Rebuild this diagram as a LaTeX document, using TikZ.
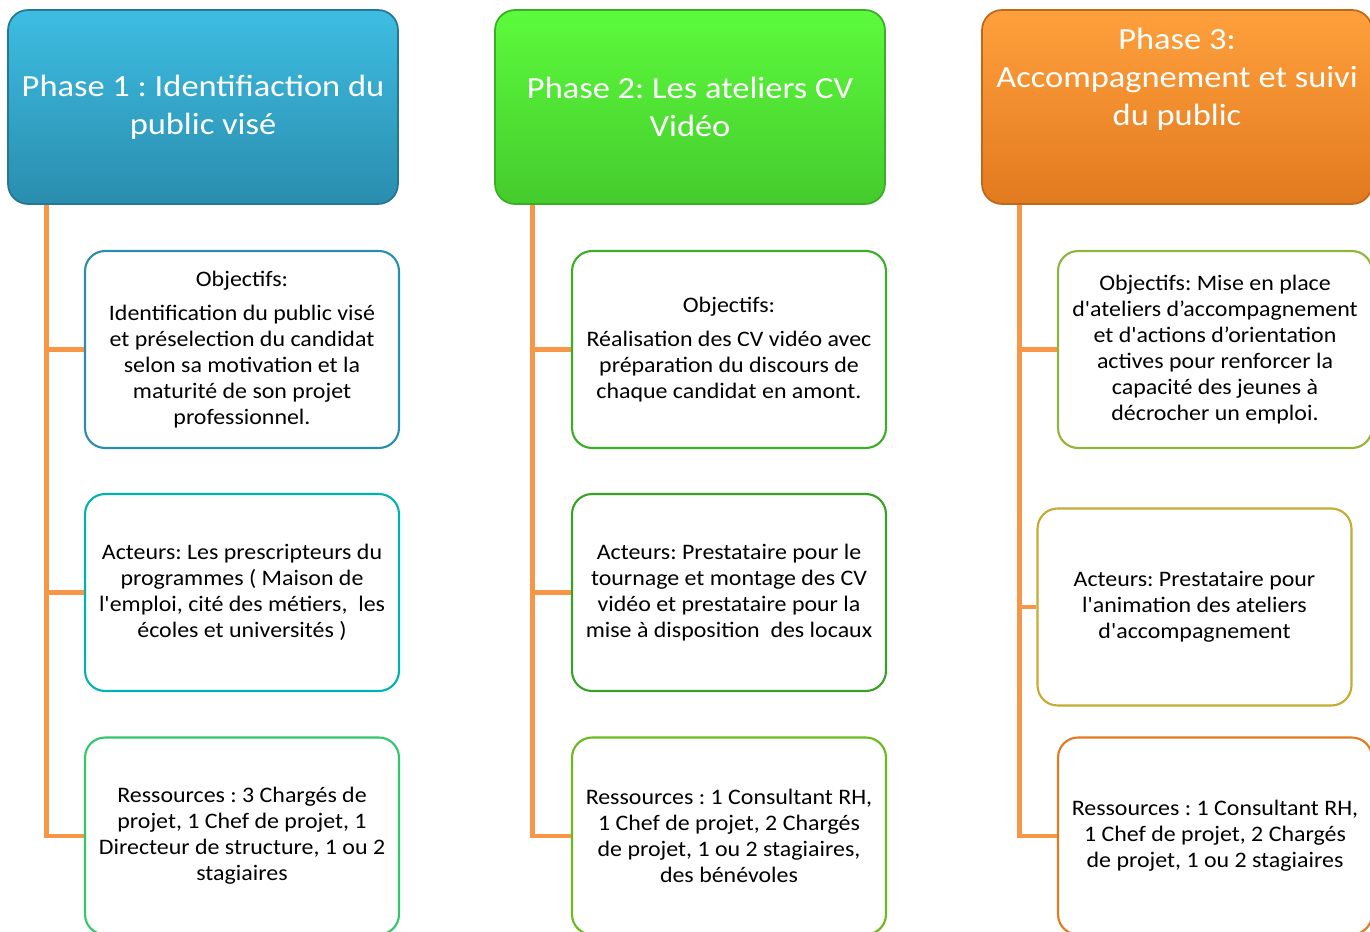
\documentclass[tikz,border=0pt]{standalone}
\usepackage{fontspec}
\setmainfont{Carlito}[Ligatures=TeXOff]
\newfontfamily\headfont{Carlito}[Ligatures=TeXOff,FakeStretch=1.12]
\newfontfamily\itemfont{Carlito}[Ligatures=TeXOff,FakeStretch=1.08]
\usetikzlibrary{positioning}
\definecolor{linkorange}{HTML}{F79646}
\definecolor{blueA}{HTML}{3DBDE2}
\definecolor{blueB}{HTML}{2A8DAE}
\definecolor{greenA}{HTML}{5CFB3C}
\definecolor{greenB}{HTML}{45CB2D}
\definecolor{orangeA}{HTML}{FFA03C}
\definecolor{orangeB}{HTML}{E27A1F}
\frenchspacing

\begin{document}
\begin{tikzpicture}[
    x=0.02cm,y=-0.02cm,
    link/.style={draw=linkorange,line width=2.8pt},
    phase/.style={rectangle,rounded corners=4mm,line width=1pt,
        minimum width=7.8cm,minimum height=3.88cm,align=center,
        text=white,font=\headfont\fontsize{17.5}{21.6}\selectfont},
    headtext/.style={align=center,text=white,font=\headfont\fontsize{17.5}{21.6}\selectfont},
    item/.style={rectangle,rounded corners=4mm,draw,fill=white,line width=1.2pt,
        minimum width=6.28cm,minimum height=3.94cm,align=center,
        font=\itemfont\fontsize{12.6}{14.75}\selectfont}
  ]
    \useasboundingbox (0,0) rectangle (1370,932);

    % les trois phases
    \node[phase,draw=blueB!85!black,top color=blueA,bottom color=blueB] (phase1)
        at (203,107) {Phase 1 : Identifiaction du\\public visé};
    \node[phase,draw=greenB!85!black,top color=greenA,bottom color=greenB] (phase2)
        at (690,107) {Phase 2: Les ateliers CV\\Vidéo};
    \node[phase,draw=orangeB!85!black,top color=orangeA,bottom color=orangeB] (phase3)
        at (1177,107) {};
    \node[headtext] (phase3 text) at (1177,79) {Phase 3:\\Accompagnement et suivi\\du public};

    % phase 1
    \node[item,draw=blueB] (obj1) at (242,349.5)
        {Objectifs:\\[5pt]Identification du public visé\\et préselection du candidat\\selon sa motivation et la\\maturité de son projet\\professionnel.};
    \node[item,draw=teal!60!cyan] (act1) at (242,592.5)
        {Acteurs: Les prescripteurs du\\programmes ( Maison de\\l'emploi, cité des métiers,~ les\\écoles et universités )};
    \node[item,draw=teal!55!green!80] (res1) at (242,836)
        {Ressources : 3 Chargés de\\projet, 1 Chef de projet, 1\\Directeur de structure, 1 ou 2\\stagiaires};

    % phase 2
    \node[item,draw=greenB!85!black] (obj2) at (729,349.5)
        {Objectifs:\\[5pt]Réalisation des CV vidéo avec\\préparation du discours de\\chaque candidat en amont.};
    \node[item,draw=greenB!80!black] (act2) at (729,592.5)
        {Acteurs: Prestataire pour le\\tournage et montage des CV\\vidéo et prestataire pour la\\mise à disposition~ des locaux};
    \node[item,draw=greenB!70!yellow!85!black] (res2) at (729,836)
        {Ressources : 1 Consultant RH,\\1 Chef de projet, 2 Chargés\\de projet, 1 ou 2 stagiaires,\\des bénévoles};

    % phase 3
    \node[item,draw=yellow!60!green!80!black] (obj3) at (1215,349.5)
        {Objectifs: Mise en place\\d'ateliers d’accompagnement\\et d'actions d’orientation\\actives pour renforcer la\\capacité des jeunes à\\décrocher un emploi.};
    \node[item,draw=yellow!70!orange!75!black] (act3) at (1194.5,607)
        {Acteurs: Prestataire pour\\l'animation des ateliers\\d'accompagnement};
    \node[item,draw=orangeB] (res3) at (1215,836)
        {Ressources : 1 Consultant RH,\\1 Chef de projet, 2 Chargés\\de projet, 1 ou 2 stagiaires};

    % liaisons
    \draw[link] ([xshift=0.78cm]phase1.south west) |- (obj1.west);
    \draw[link] ([xshift=0.78cm]phase1.south west) |- (act1.west);
    \draw[link] ([xshift=0.78cm]phase1.south west) |- (res1.west);
    \draw[link] ([xshift=0.76cm]phase2.south west) |- (obj2.west);
    \draw[link] ([xshift=0.76cm]phase2.south west) |- (act2.west);
    \draw[link] ([xshift=0.76cm]phase2.south west) |- (res2.west);
    \draw[link] ([xshift=0.76cm]phase3.south west) |- (obj3.west);
    \draw[link] ([xshift=0.76cm]phase3.south west) |- (act3.west);
    \draw[link] ([xshift=0.76cm]phase3.south west) |- (res3.west);
\end{tikzpicture}
\end{document}
